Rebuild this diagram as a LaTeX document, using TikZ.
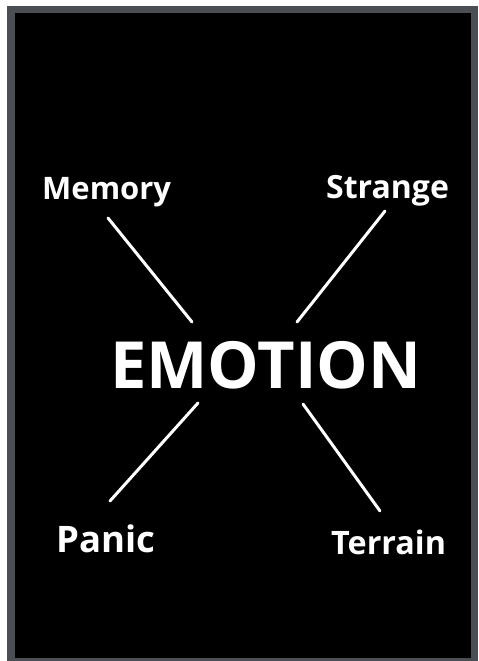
\documentclass[tikz,border=0pt]{standalone}
\usepackage{fontspec}
\setmainfont{Open Sans}
\definecolor{framegray}{HTML}{4B4E52}
\begin{document}
\begin{tikzpicture}[x=1pt,y=-1pt,
  lbl/.style={text=white,font=\bfseries,inner sep=0pt,anchor=base west},
  ray/.style={draw=white,line width=3pt,line cap=round}]
\useasboundingbox (0,0) rectangle (479,661);
\fill[white] (0,0) rectangle (479,661);
\fill[framegray] (7,6) rectangle (478,661);
\fill[black] (15,13) rectangle (471,658);
\node[lbl,font=\bfseries\fontsize{31}{32}\selectfont] (memory) at (42,199) {Memory};
\node[lbl,font=\bfseries\fontsize{32}{34}\selectfont] (strange) at (326,198) {Strange};
\node[lbl,font=\bfseries\fontsize{65}{68}\selectfont] (emotion) at (110,388) {EMOTION};
\node[lbl,font=\bfseries\fontsize{36.5}{38}\selectfont] (panic) at (56,552) {Panic};
\node[lbl,font=\bfseries\fontsize{32.3}{34}\selectfont] (terrain) at (331,554) {Terrain};
\coordinate (m1) at (108,218);
\coordinate (m2) at (192,322);
\coordinate (s1) at (385,211);
\coordinate (s2) at (297,322);
\coordinate (p1) at (198,403);
\coordinate (p2) at (110,501);
\coordinate (t1) at (303,404);
\coordinate (t2) at (380,511);
\draw[ray] (m1) -- (m2);
\draw[ray] (s1) -- (s2);
\draw[ray] (p1) -- (p2);
\draw[ray] (t1) -- (t2);
\end{tikzpicture}
\end{document}
